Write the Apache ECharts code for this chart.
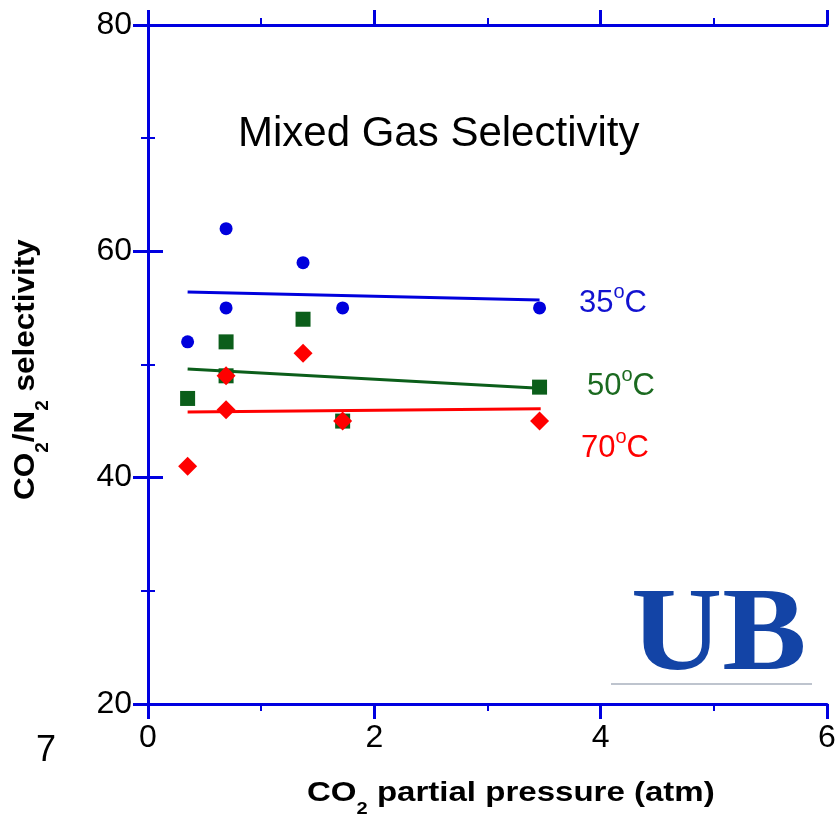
<!DOCTYPE html>
<html>
<head>
<meta charset="utf-8">
<script src="https://cdn.jsdelivr.net/npm/echarts@6/dist/echarts.min.js"></script>
<style>
  html, body { margin: 0; padding: 0; background: #fff; }
  #chart { width: 839px; height: 816px; }
</style>
</head>
<body>
<div id="chart"></div>
<script>
// CO2 partial pressure (atm) and measured selectivities
const pressure = [0.35, 0.69, 1.37, 1.72, 3.46];
const sel35 = [[0.35, 52], [0.69, 62], [0.69, 55], [1.37, 59], [1.72, 55], [3.46, 55]];
const sel50 = [[0.35, 47], [0.69, 52], [0.69, 49], [1.37, 54], [1.72, 45], [3.46, 48]];
const sel70 = [[0.35, 41], [0.69, 49], [0.69, 46], [1.37, 51], [1.72, 45], [3.46, 45]];

// fitted trend lines (end points)
const fit35 = [[0.35, 56.4], [3.46, 55.7]];
const fit50 = [[0.35, 49.6], [3.46, 47.9]];
const fit70 = [[0.35, 45.8], [3.47, 46.1]];

const xTicks = [0, 2, 4, 6];
const yTicks = [20, 40, 60, 80];

const blue = '#0000dd';
const green = '#0b5e1a';
const red = '#ff0000';
const axisBlue = '#0000e0';
const font = 'Liberation Sans, Arial, sans-serif';

const chart = echarts.init(document.getElementById('chart'), null, { renderer: 'canvas' });

const axisCommon = {
  type: 'value',
  axisLine: { show: true, lineStyle: { color: axisBlue, width: 3 } },
  axisTick: { show: true, inside: false, length: 15, lineStyle: { color: axisBlue, width: 3 } },
  minorTick: { show: true, splitNumber: 2, length: 7, lineStyle: { color: axisBlue, width: 2 } },
  splitLine: { show: false }
};

// label with superscript "o" (degree)
function tempLabel(t, color, x, y) {
  return {
    type: 'text', x: x, y: y,
    style: {
      text: '{n|' + t + '}{s|o}{n|C}',
      verticalAlign: 'middle',
      rich: {
        n: { fontSize: 31, fontFamily: font, fill: color },
        s: { fontSize: 20, fontFamily: font, fill: color, padding: [0, 0, 22, 0] }
      }
    }
  };
}

const nameRich = (size) => ({
  n: { fontSize: size, fontWeight: 'bold', fontFamily: font, fill: '#000' },
  s: { fontSize: Math.round(size * 0.6), fontWeight: 'bold', fontFamily: font, fill: '#000', padding: [Math.round(size * 1.15), 0, 0, 0] }
});

const option = {
  animation: false,
  backgroundColor: '#ffffff',
  grid: { left: 148, right: 12, top: 25, bottom: 112 },
  xAxis: [
    Object.assign({}, axisCommon, {
      position: 'bottom',
      min: xTicks[0], max: xTicks[xTicks.length - 1], interval: 2,
      axisLabel: { color: '#000', fontSize: 32, fontFamily: font, margin: 18 }
    }),
    Object.assign({}, axisCommon, {
      position: 'top',
      min: xTicks[0], max: xTicks[xTicks.length - 1], interval: 2,
      axisLabel: { show: false }
    })
  ],
  yAxis: [
    Object.assign({}, axisCommon, {
      position: 'left',
      min: yTicks[0], max: yTicks[yTicks.length - 1], interval: 20,
      axisLabel: { color: '#000', fontSize: 32, fontFamily: font, margin: 16 }
    }),
    Object.assign({}, axisCommon, {
      position: 'right',
      min: yTicks[0], max: yTicks[yTicks.length - 1], interval: 20,
      axisLabel: { show: false }
    })
  ],
  series: [
    { type: 'line', data: fit35, symbol: 'none', lineStyle: { color: blue, width: 3 }, z: 2 },
    { type: 'line', data: fit50, symbol: 'none', lineStyle: { color: green, width: 3 }, z: 2 },
    { type: 'line', data: fit70, symbol: 'none', lineStyle: { color: red, width: 3 }, z: 2 },
    { type: 'scatter', data: sel35, symbol: 'circle', symbolSize: 13, itemStyle: { color: blue, opacity: 1 }, z: 3 },
    { type: 'scatter', data: sel50, symbol: 'rect', symbolSize: 15, itemStyle: { color: green, opacity: 1 }, z: 3 },
    { type: 'scatter', data: sel70, symbol: 'diamond', symbolSize: 19, itemStyle: { color: red, opacity: 1 }, z: 4 }
  ],
  graphic: [
    {
      type: 'text', x: 238, y: 134,
      style: { text: 'Mixed Gas Selectivity', fill: '#000', font: '42px ' + font, verticalAlign: 'middle' }
    },
    tempLabel('35', '#1212d0', 579, 303),
    tempLabel('50', '#1b6a20', 587, 386),
    tempLabel('70', '#ff0000', 581, 448),
    {
      // x axis title
      type: 'text', x: 307, y: 793, scaleX: 1.18,
      style: {
        text: '{n|CO}{s|2}{n| partial pressure (atm)}',
        verticalAlign: 'middle',
        rich: nameRich(28)
      }
    },
    {
      // y axis title, rotated
      type: 'text', x: 26, y: 500, rotation: Math.PI / 2, scaleX: 1.05,
      style: {
        text: '{n|CO}{s|2}{n|/N}{s|2}{n| selectivity}',
        verticalAlign: 'middle',
        rich: nameRich(30)
      }
    },
    {
      type: 'text', left: 36, top: 733,
      style: { text: '7', fill: '#000', font: '36px ' + font }
    },
    {
      type: 'text', x: 631, y: 580, scaleX: 1.07,
      style: { text: 'UB', fill: '#1344a6', font: 'bold 118px "Liberation Serif", "DejaVu Serif", serif' }
    },
    {
      type: 'line',
      shape: { x1: 611, y1: 684, x2: 812, y2: 684 },
      style: { stroke: '#a8b0be', lineWidth: 1.5 }
    }
  ]
};

chart.setOption(option);
</script>
</body>
</html>
